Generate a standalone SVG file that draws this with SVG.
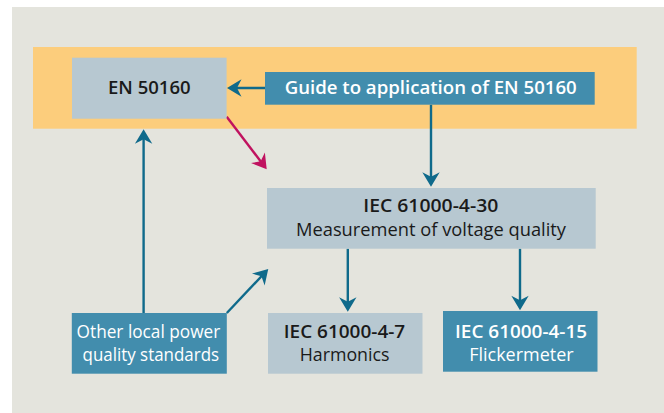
<svg xmlns="http://www.w3.org/2000/svg" width="664" height="413" viewBox="0 0 664 413">
<style>
  .light { fill: #b7c8d1; }
  .teal { fill: #428dad; }
  .t { font-family: "Open Sans", "Liberation Sans", sans-serif; font-size: 17.5px; text-anchor: middle; }
  .b { font-weight: 600; }
  .dark { fill: #1a1a1a; }
  .white { fill: #ffffff; }
  .conn { fill: none; stroke: #0f6a8b; stroke-width: 2.4; }
  .mag { fill: none; stroke: #c0125f; stroke-width: 2.4; }
</style>
<defs>
  <marker id="ah" markerUnits="userSpaceOnUse" markerWidth="30" markerHeight="30" viewBox="-20 -15 30 30" refX="-3" refY="0" orient="auto" overflow="visible">
    <path d="M0,0 L-14.5,-8.7 L-10,0 L-14.5,8.7 Z" fill="#0f6a8b"/>
  </marker>
  <marker id="ahm" markerUnits="userSpaceOnUse" markerWidth="30" markerHeight="30" viewBox="-20 -15 30 30" refX="-3" refY="0" orient="auto" overflow="visible">
    <path d="M0,0 L-14.5,-8.7 L-10,0 L-14.5,8.7 Z" fill="#c0125f"/>
  </marker>
</defs>
<rect x="0" y="0" width="664" height="413" fill="#ffffff"/>
<rect x="12" y="7" width="652" height="406" fill="#e4e4dd"/>
<rect x="33" y="47" width="603.7" height="81.7" fill="#fccd7c"/>

<g id="connectors">
  <path class="conn" d="M265,88 L230,88" marker-end="url(#ah)"/>
  <path class="conn" d="M431,104.7 L431,183.7" marker-end="url(#ah)"/>
  <path class="mag" d="M226.7,116.7 L264.9,166.9" marker-end="url(#ahm)"/>
  <path class="conn" d="M143.6,313 L143.6,132.3" marker-end="url(#ah)"/>
  <path class="conn" d="M226.8,313 L266.2,271.2" marker-end="url(#ah)"/>
  <path class="conn" d="M347.8,248.7 L347.8,308.7" marker-end="url(#ah)"/>
  <path class="conn" d="M520,248.7 L520,307.3" marker-end="url(#ah)"/>
</g>

<g id="en50160">
  <rect class="light" x="72" y="57.7" width="154.6" height="61"/>
  <text class="t b dark" x="149.3" y="94" style="font-size:18px" textLength="82.6" lengthAdjust="spacingAndGlyphs">EN 50160</text>
</g>

<g id="guide">
  <rect class="teal" x="265" y="72" width="329.7" height="32.7"/>
  <text class="t b white" x="430.7" y="94" style="font-size:18px" textLength="292" lengthAdjust="spacingAndGlyphs">Guide to application of EN 50160</text>
</g>

<g id="iec61000-4-30">
  <rect class="light" x="267" y="188" width="328.7" height="60.7"/>
  <text class="t b dark" x="430.8" y="212.3" textLength="135" lengthAdjust="spacingAndGlyphs">IEC 61000-4-30</text>
  <text class="t dark" x="431" y="235.7" textLength="270" lengthAdjust="spacingAndGlyphs">Measurement of voltage quality</text>
</g>

<g id="other">
  <rect class="teal" x="71.8" y="313" width="155" height="60.7"/>
  <text class="t white" x="148.4" y="338" textLength="143.6" lengthAdjust="spacingAndGlyphs">Other local power</text>
  <text class="t white" x="150.8" y="360.7" textLength="136.5" lengthAdjust="spacingAndGlyphs">quality standards</text>
</g>

<g id="iec61000-4-7">
  <rect class="light" x="268" y="313" width="154.5" height="60.7"/>
  <text class="t b dark" x="344.5" y="338" textLength="121.4" lengthAdjust="spacingAndGlyphs">IEC 61000-4-7</text>
  <text class="t dark" x="344.6" y="360.7" textLength="89.9" lengthAdjust="spacingAndGlyphs">Harmonics</text>
</g>

<g id="iec61000-4-15">
  <rect class="teal" x="443" y="311" width="154.5" height="60.7"/>
  <text class="t b white" x="521.1" y="337.7" textLength="132" lengthAdjust="spacingAndGlyphs">IEC 61000-4-15</text>
  <text class="t white" x="521.4" y="360.7" textLength="104.3" lengthAdjust="spacingAndGlyphs">Flickermeter</text>
</g>
</svg>
